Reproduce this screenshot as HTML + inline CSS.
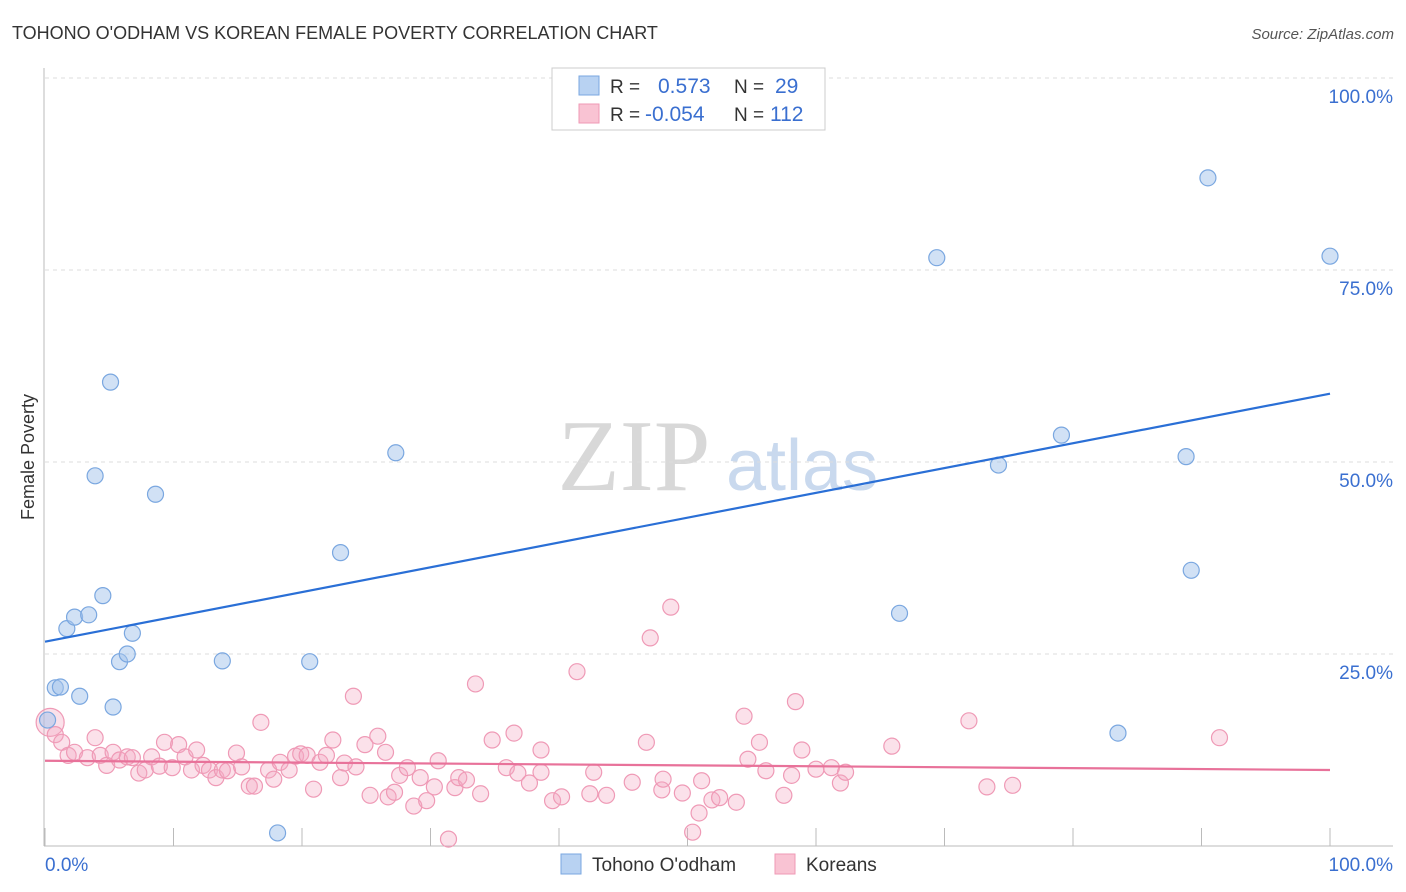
<!DOCTYPE html>
<html><head><meta charset="utf-8"><style>
body{margin:0;background:#fff;font-family:"Liberation Sans",sans-serif;}
#wrap{position:relative;width:1406px;height:892px;overflow:hidden;}
</style></head><body>
<div id="wrap">
<svg id="svg" width="1406" height="892" xmlns="http://www.w3.org/2000/svg">
<text x="12" y="39" font-size="18" fill="#333">TOHONO O'ODHAM VS KOREAN FEMALE POVERTY CORRELATION CHART</text>
<text x="1394" y="39" font-size="15" fill="#555" font-style="italic" text-anchor="end">Source: ZipAtlas.com</text>
<text x="634" y="490" font-size="102" fill="#d8d8d8" font-family="Liberation Serif" text-anchor="middle">ZIP</text>
<text x="802" y="490" font-size="72" fill="#c9d9ee" text-anchor="middle">atlas</text>
<text transform="translate(34,457) rotate(-90)" font-size="18" fill="#333" text-anchor="middle">Female Poverty</text>
<g id="grid"></g><g id="pts"></g><g id="lines"></g>
<g>
<rect x="552" y="68" width="273" height="62" fill="#fff" stroke="#ccc"/>
<rect x="579" y="76" width="20" height="19" fill="#b8d2f2" stroke="#7aa7e0"/>
<rect x="579" y="104" width="20" height="19" fill="#f9c3d3" stroke="#ef9ab6"/>
<text x="610" y="93" font-size="19" fill="#333">R = </text><text x="658" y="93" font-size="21" fill="#3a6fd0">0.573</text>
<text x="734" y="93" font-size="19" fill="#333">N = </text><text x="775" y="93" font-size="21" fill="#3a6fd0">29</text>
<text x="610" y="121" font-size="19" fill="#333">R = </text><text x="645" y="121" font-size="21" fill="#3a6fd0">-0.054</text>
<text x="734" y="121" font-size="19" fill="#333">N = </text><text x="770" y="121" font-size="21" fill="#3a6fd0">112</text>
</g>
<g>
<rect x="561" y="854" width="20" height="20" fill="#b8d2f2" stroke="#7aa7e0"/>
<text x="592" y="871" font-size="19" fill="#333">Tohono O'odham</text>
<rect x="775" y="854" width="20" height="20" fill="#f9c3d3" stroke="#ef9ab6"/>
<text x="806" y="871" font-size="19" fill="#333">Koreans</text>
</g>
<text x="45" y="871" font-size="19" fill="#3a6fd0">0.0%</text>
<text x="1393" y="871" font-size="19" fill="#3a6fd0" text-anchor="end">100.0%</text>
</svg>
</div>
<script>
const yTicks=[100,75,50,25];
const xTicks=[0,10,20,30,40,50,60,70,80,90,100];
const blueX=[0.2,0.8,1.2,2.7,1.7,2.3,3.4,4.5,3.9,5.1,5.3,5.8,6.4,6.8,8.6,13.8,18.1,20.6,23.0,27.3,66.5,69.4,74.2,79.1,83.5,88.8,89.2,90.5,100];
const blueY=[16.4,20.6,20.7,19.5,28.3,29.8,30.1,32.6,48.2,60.4,18.1,24.0,25.0,27.7,45.8,24.1,1.7,24.0,38.2,51.2,30.3,76.6,49.6,53.5,14.7,50.7,35.9,87.0,76.8];
const pinkX=[0.4,0.8,1.3,1.8,2.3,3.3,3.9,4.3,4.8,5.3,5.8,6.4,6.8,7.3,7.8,8.3,8.9,9.3,9.9,10.4,10.9,11.4,11.8,12.3,12.8,13.3,13.8,14.2,14.9,15.3,15.9,16.3,16.8,17.4,17.8,18.3,19.0,19.5,19.9,20.4,20.9,21.4,21.9,22.4,23.0,23.3,24.0,24.2,24.9,25.3,25.9,26.5,26.7,27.2,27.6,28.2,28.7,29.2,29.7,30.3,30.6,31.4,31.9,32.2,32.8,33.5,33.9,34.8,35.9,36.5,36.8,37.7,38.6,38.6,39.5,40.2,41.4,42.4,42.7,43.7,45.7,46.8,47.1,48.0,48.1,48.7,49.6,50.4,50.9,51.1,51.9,52.5,53.8,54.4,54.7,55.6,56.1,57.5,58.1,58.4,58.9,60.0,61.2,61.9,62.3,65.9,71.9,73.3,75.3,91.4];
const pinkY=[16.1,14.5,13.5,11.8,12.2,11.5,14.1,11.8,10.5,12.2,11.2,11.6,11.5,9.5,9.9,11.6,10.4,13.5,10.2,13.2,11.6,9.9,12.5,10.5,9.9,8.9,9.9,9.8,12.1,10.3,7.8,7.8,16.1,9.9,8.7,10.9,9.9,11.7,12.0,11.8,7.4,10.9,11.8,13.8,8.9,10.8,19.5,10.3,13.2,6.6,14.3,12.2,6.4,7.0,9.2,10.2,5.2,8.9,5.9,7.7,11.1,0.9,7.6,8.9,8.6,21.1,6.8,13.8,10.2,14.7,9.5,8.2,12.5,9.6,5.9,6.4,22.7,6.8,9.6,6.6,8.3,13.5,27.1,7.3,8.7,31.1,6.9,1.8,4.3,8.5,6.0,6.3,5.7,16.9,11.3,13.5,9.8,6.6,9.2,18.8,12.5,10.0,10.2,8.2,9.6,13.0,16.3,7.7,7.9,14.1];
const blueFit=[26.6,58.9];
const pinkFit=[11.1,9.9];
const X0=45,X1=1330,Y0=846,Y100=78;
const sx=v=>X0+(X1-X0)*v/100, sy=v=>Y0-(Y0-Y100)*v/100;
const NS='http://www.w3.org/2000/svg';
function mk(t,a,p){const e=document.createElementNS(NS,t);for(const k in a)e.setAttribute(k,a[k]);p.appendChild(e);return e;}
const grid=document.getElementById('grid');
yTicks.forEach(v=>{
 const l=mk('line',{x1:45,x2:1393,y1:sy(v),y2:sy(v),stroke:'#ddd','stroke-dasharray':'4,4'},grid);
 
 
 const t=mk('text',{x:1393,y:sy(v)+25,'font-size':19,fill:'#3a6fd0','text-anchor':'end'},grid);
 t.textContent=v.toFixed(1)+'%';
 
 
});
const ax=mk('line',{x1:44,x2:44,y1:68,y2:846,stroke:'#bbb'},grid);


const bx=mk('line',{x1:44,x2:1393,y1:846,y2:846,stroke:'#bbb'},grid);


xTicks.forEach(v=>{
 const l=mk('line',{x1:sx(v),x2:sx(v),y1:828,y2:846,stroke:'#bbb'},grid);
 
 
});
const pts=document.getElementById('pts');
pinkX.forEach((x,i)=>{
 const c=mk('circle',{cx:sx(x),cy:sy(pinkY[i]),r:i==0?14:8,fill:'rgba(244,170,195,0.35)',stroke:'#ef9ab6','stroke-width':1.2},pts);
 
 
});
blueX.forEach((x,i)=>{
 const c=mk('circle',{cx:sx(x),cy:sy(blueY[i]),r:8,fill:'rgba(164,196,236,0.5)',stroke:'#7aa7e0','stroke-width':1.2},pts);
 
 
});
const lines=document.getElementById('lines');
const bl=mk('line',{x1:sx(0),y1:sy(blueFit[0]),x2:sx(100),y2:sy(blueFit[1]),stroke:'#2a6fd6','stroke-width':2.2},lines);


const pl=mk('line',{x1:sx(0),y1:sy(pinkFit[0]),x2:sx(100),y2:sy(pinkFit[1]),stroke:'#e8729a','stroke-width':2.2},lines);


</script>
</body></html>
